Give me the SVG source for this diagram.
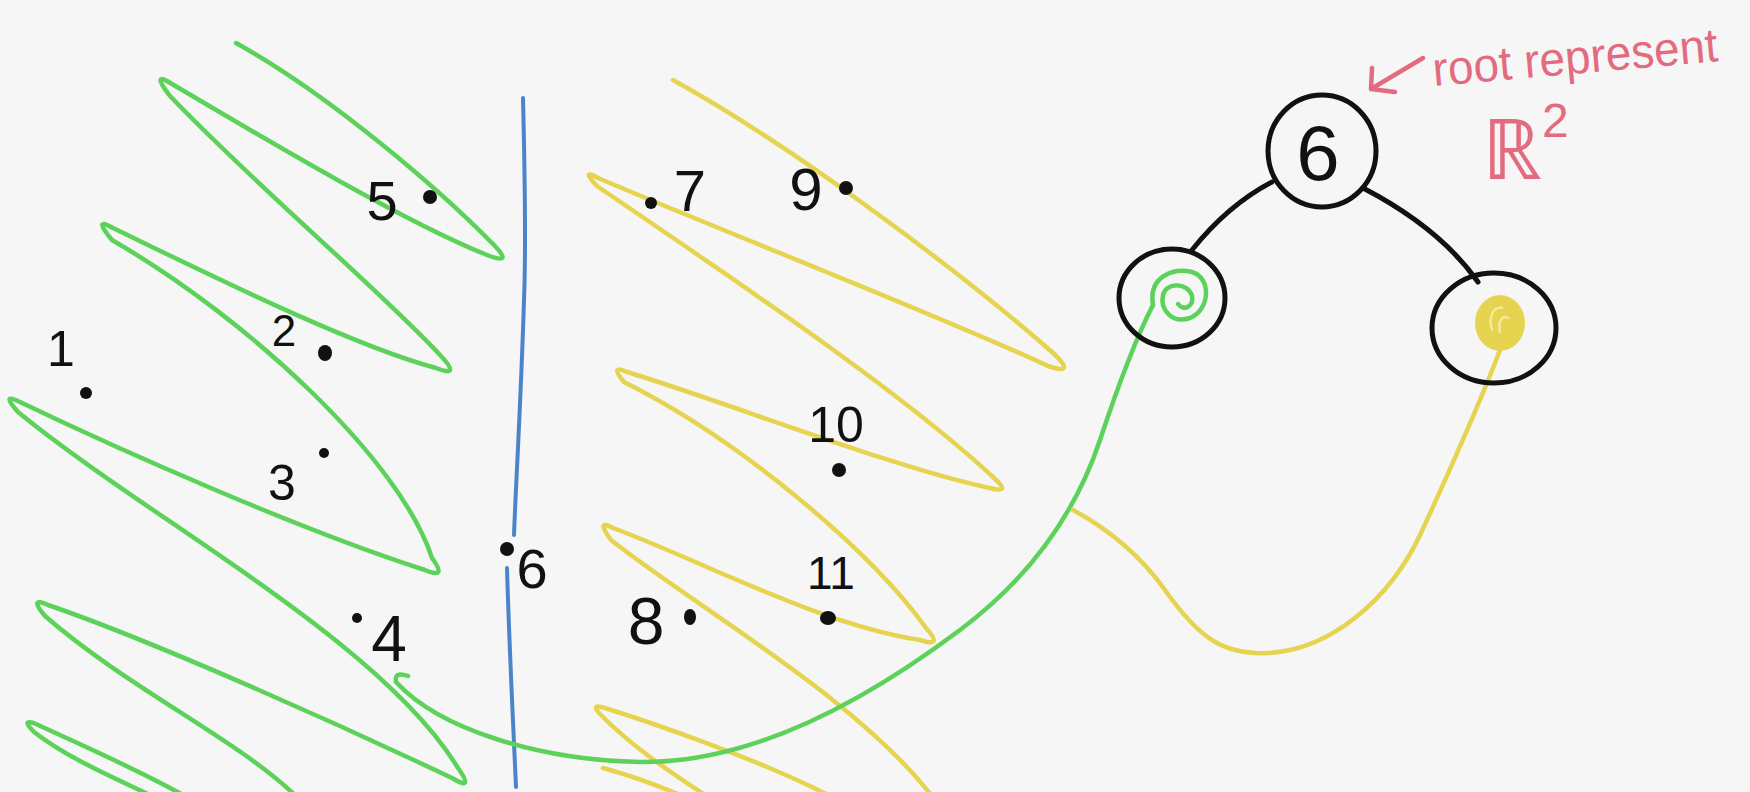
<svg xmlns="http://www.w3.org/2000/svg" width="1750" height="792" viewBox="0 0 1750 792">
<style>
.g{fill:none;stroke:#5cd25a;stroke-width:4.5;stroke-linecap:round;stroke-linejoin:round}
.y{fill:none;stroke:#e6d450;stroke-width:4.5;stroke-linecap:round;stroke-linejoin:round}
.b{fill:none;stroke:#4a85c9;stroke-width:4;stroke-linecap:round}
.k{fill:none;stroke:#111;stroke-width:5;stroke-linecap:round}
.p{fill:none;stroke:#e36b80;stroke-width:4.5;stroke-linecap:round;stroke-linejoin:round}
.n{font-family:"Liberation Sans",Arial,sans-serif;fill:#111;text-anchor:middle}
.dot{fill:#111}
.pt{font-family:"Liberation Sans",Arial,sans-serif;fill:#e36b80}
</style>
<rect width="1750" height="792" fill="#f6f6f6"/>

<!-- green scribble -->
<path class="g" d="M236,43 C330,95 440,190 493,244 Q515,266 487,255 C400,220 250,130 172,84 Q150,70 170,96 C260,190 380,290 440,355 Q462,378 436,368 C350,345 200,270 113,228 Q92,216 112,240 C250,320 400,460 432,558 Q448,580 425,570 C300,530 120,450 20,402 Q0,392 18,412 C150,520 380,640 458,768 Q475,792 452,778 C330,720 150,640 48,605 Q28,596 45,616 C130,690 240,740 300,800"/>
<path class="g" d="M192,800 C140,770 70,740 36,724 Q20,718 34,732 C70,760 120,780 160,800"/>

<!-- yellow scribble -->
<path class="y" d="M673,80 C800,150 970,280 1052,352 Q1078,376 1048,366 C950,320 720,230 598,178 Q580,168 597,186 C720,270 900,390 994,478 Q1012,494 990,488 C900,470 720,400 627,372 Q609,364 624,382 C740,440 870,550 926,628 Q944,648 920,640 C820,625 700,560 613,528 Q595,518 611,540 C700,610 860,700 935,800"/>
<path class="y" d="M828,795 C760,760 650,722 605,708 Q590,703 600,714 C630,745 670,772 705,795"/>
<path class="y" d="M603,768 Q640,778 680,795"/>

<!-- blue divider -->
<path class="b" d="M523,98 C525,180 526,250 524,300 C521,400 516,480 514,535"/>
<path class="b" d="M507,568 C509,640 513,720 516,787"/>

<!-- points -->
<g id="p1"><circle class="dot" cx="86" cy="393" r="6"/><text class="n" x="61" y="366" font-size="50">1</text></g>
<g id="p2"><ellipse class="dot" cx="325" cy="353" rx="7" ry="8"/><text class="n" x="284" y="346" font-size="44">2</text></g>
<g id="p3"><circle class="dot" cx="324" cy="453" r="5"/><text class="n" x="282" y="500" font-size="50">3</text></g>
<g id="p4"><circle class="dot" cx="357" cy="618" r="5"/><text class="n" x="389" y="661" font-size="64">4</text></g>
<g id="p5"><circle class="dot" cx="430" cy="197" r="7"/><text class="n" x="382" y="220" font-size="56">5</text></g>
<g id="p6"><circle class="dot" cx="507" cy="549" r="7"/><text class="n" x="532" y="588" font-size="56">6</text></g>
<g id="p7"><circle class="dot" cx="651" cy="203" r="6"/><text class="n" x="690" y="211" font-size="58">7</text></g>
<g id="p8"><ellipse class="dot" cx="690" cy="617" rx="6" ry="8"/><text class="n" x="646" y="644" font-size="66">8</text></g>
<g id="p9"><circle class="dot" cx="846" cy="188" r="7"/><text class="n" x="806" y="210" font-size="60">9</text></g>
<g id="p10"><circle class="dot" cx="839" cy="470" r="7"/><text class="n" x="836" y="442" font-size="50">10</text></g>
<g id="p11"><ellipse class="dot" cx="828" cy="618" rx="8" ry="7"/><text class="n" x="831" y="589" font-size="46">11</text></g>

<!-- connectors -->
<g id="connectors">
<path class="k" d="M1272,182 Q1228,205 1192,250"/>
<path class="k" d="M1363,188 Q1440,228 1478,282"/>
<path class="g" d="M408,676 Q394,671 396,682 C440,730 540,760 640,762 C760,764 880,690 960,630 C1040,570 1080,500 1100,440 C1120,380 1140,330 1153,305"/>
<path class="y" d="M1073,510 C1110,530 1140,555 1165,590 C1200,640 1225,655 1268,653 C1330,650 1390,600 1421,533 C1450,470 1485,390 1502,345"/>
<path class="p" d="M1423,58 L1371,89 M1372,68 L1371,89 L1395,92"/>
</g>

<!-- tree nodes -->
<g id="root">
<ellipse class="k" cx="1322" cy="151" rx="54" ry="56"/>
<text class="n" x="1318" y="180" font-size="78">6</text>
</g>
<g id="left-child">
<ellipse class="k" cx="1172" cy="298" rx="53" ry="49"/>
<path class="g" d="M1153,305 C1148,275 1175,268 1192,272 C1212,278 1210,310 1190,318 C1172,324 1160,310 1163,295 C1166,282 1188,282 1192,296 C1194,306 1184,312 1178,304"/>
</g>
<g id="right-child">
<ellipse class="k" cx="1494" cy="328" rx="62" ry="55"/>
<ellipse cx="1500" cy="323" rx="25" ry="28" fill="#e6d450"/>
<path d="M1492,330 C1488,316 1494,306 1502,308 M1500,332 C1498,322 1502,314 1508,318" fill="none" stroke="#f4ea9a" stroke-width="2.5" stroke-linecap="round"/>
</g>

<!-- annotation -->
<g id="annotation">
<text class="pt" x="1434" y="86" font-size="48" textLength="286" lengthAdjust="spacingAndGlyphs" transform="rotate(-5 1434 86)">root represent</text>
<text class="pt" x="1482" y="179" font-size="84" font-family="DejaVu Sans,sans-serif">ℝ<tspan font-size="48" dy="-42">2</tspan></text>
</g>
</svg>
